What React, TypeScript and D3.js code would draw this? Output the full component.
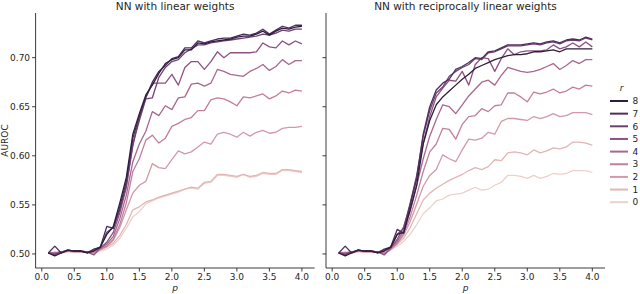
import React from "react";
import * as d3 from "d3";

// x grid (p) shared by every line
const pValues = [
  0.1, 0.2, 0.3, 0.4, 0.5, 0.6, 0.7, 0.8, 0.9, 1.0,
  1.1, 1.2, 1.3, 1.4, 1.5, 1.6, 1.7, 1.8, 1.9, 2.0,
  2.1, 2.2, 2.3, 2.4, 2.5, 2.6, 2.7, 2.8, 2.9, 3.0,
  3.1, 3.2, 3.3, 3.4, 3.5, 3.6, 3.7, 3.8, 3.9, 4.0,
];

const rLevels = [0, 1, 2, 3, 4, 5, 6, 7, 8];
const panelTitles = ["NN with linear weights", "NN with reciprocally linear weights"];
const xTicks = [0, 0.5, 1, 1.5, 2, 2.5, 3, 3.5, 4];
const yTicks = [0.5, 0.55, 0.6, 0.65, 0.7];

// AUROC, linear weights, one array per r
const linearR0 = [0.501, 0.501, 0.501, 0.502, 0.502, 0.502, 0.502, 0.500, 0.503,
  0.505, 0.509, 0.516, 0.526, 0.538, 0.543, 0.551, 0.554, 0.557, 0.559,
  0.561, 0.563, 0.566, 0.567, 0.566, 0.572, 0.573, 0.580, 0.580, 0.579,
  0.578, 0.581, 0.578, 0.579, 0.582, 0.581, 0.581, 0.585, 0.585, 0.584, 0.583];
const linearR1 = [0.501, 0.502, 0.501, 0.503, 0.503, 0.502, 0.502, 0.501, 0.504,
  0.507, 0.511, 0.519, 0.530, 0.545, 0.548, 0.553, 0.555, 0.558, 0.560,
  0.562, 0.564, 0.566, 0.568, 0.567, 0.573, 0.574, 0.581, 0.581, 0.580,
  0.579, 0.581, 0.579, 0.580, 0.583, 0.582, 0.582, 0.586, 0.586, 0.585, 0.584];
const linearR2 = [0.501, 0.501, 0.502, 0.503, 0.502, 0.502, 0.502, 0.501, 0.505,
  0.508, 0.514, 0.527, 0.545, 0.562, 0.570, 0.574, 0.592, 0.588, 0.587,
  0.596, 0.605, 0.602, 0.604, 0.609, 0.614, 0.612, 0.622, 0.624, 0.622,
  0.619, 0.624, 0.620, 0.624, 0.626, 0.623, 0.624, 0.628, 0.629, 0.629, 0.630];
const linearR3 = [0.501, 0.500, 0.502, 0.503, 0.503, 0.503, 0.502, 0.502, 0.505,
  0.508, 0.515, 0.530, 0.552, 0.584, 0.597, 0.616, 0.621, 0.613, 0.618,
  0.630, 0.633, 0.637, 0.639, 0.646, 0.646, 0.657, 0.659, 0.658, 0.655,
  0.651, 0.660, 0.659, 0.661, 0.663, 0.658, 0.661, 0.666, 0.664, 0.667, 0.666];
const linearR4 = [0.501, 0.501, 0.502, 0.503, 0.503, 0.503, 0.502, 0.503, 0.506,
  0.510, 0.518, 0.536, 0.560, 0.594, 0.612, 0.625, 0.645, 0.641, 0.651,
  0.647, 0.659, 0.660, 0.673, 0.674, 0.671, 0.674, 0.688, 0.686, 0.683,
  0.682, 0.681, 0.686, 0.689, 0.693, 0.687, 0.691, 0.698, 0.693, 0.697, 0.697];
const linearR5 = [0.501, 0.500, 0.502, 0.504, 0.503, 0.503, 0.502, 0.499, 0.506,
  0.512, 0.522, 0.542, 0.568, 0.610, 0.640, 0.659, 0.674, 0.674, 0.674,
  0.683, 0.672, 0.690, 0.696, 0.696, 0.688, 0.696, 0.706, 0.700, 0.705,
  0.705, 0.705, 0.705, 0.706, 0.715, 0.711, 0.710, 0.717, 0.713, 0.717, 0.714];
const linearR6 = [0.501, 0.499, 0.502, 0.504, 0.503, 0.503, 0.502, 0.504, 0.507,
  0.522, 0.527, 0.545, 0.570, 0.612, 0.636, 0.658, 0.659, 0.680, 0.690,
  0.696, 0.698, 0.705, 0.709, 0.713, 0.713, 0.715, 0.716, 0.717, 0.718,
  0.719, 0.720, 0.721, 0.722, 0.724, 0.723, 0.725, 0.728, 0.727, 0.729, 0.729];
const linearR7 = [0.501, 0.508, 0.501, 0.504, 0.503, 0.503, 0.501, 0.505, 0.507,
  0.528, 0.526, 0.548, 0.574, 0.618, 0.640, 0.660, 0.675, 0.686, 0.692,
  0.699, 0.701, 0.710, 0.710, 0.717, 0.715, 0.717, 0.719, 0.720, 0.720,
  0.722, 0.724, 0.723, 0.725, 0.729, 0.724, 0.728, 0.732, 0.730, 0.733, 0.733];
const linearR8 = [0.501, 0.498, 0.501, 0.504, 0.503, 0.503, 0.501, 0.503, 0.507,
  0.520, 0.528, 0.552, 0.578, 0.622, 0.643, 0.662, 0.672, 0.684, 0.694,
  0.698, 0.700, 0.708, 0.708, 0.715, 0.714, 0.716, 0.717, 0.718, 0.719,
  0.721, 0.722, 0.722, 0.724, 0.727, 0.723, 0.727, 0.730, 0.729, 0.731, 0.732];

// AUROC, reciprocally linear weights
const recipR0 = [0.501, 0.501, 0.501, 0.502, 0.502, 0.502, 0.502, 0.500, 0.504,
  0.508, 0.513, 0.520, 0.530, 0.541, 0.547, 0.554, 0.556, 0.560, 0.561,
  0.562, 0.565, 0.568, 0.565, 0.566, 0.570, 0.573, 0.580, 0.580, 0.579,
  0.577, 0.580, 0.577, 0.579, 0.582, 0.581, 0.582, 0.585, 0.585, 0.585, 0.583];
const recipR1 = [0.501, 0.502, 0.501, 0.503, 0.503, 0.502, 0.502, 0.501, 0.504,
  0.510, 0.516, 0.527, 0.541, 0.555, 0.562, 0.567, 0.571, 0.575, 0.578,
  0.581, 0.585, 0.588, 0.586, 0.589, 0.596, 0.595, 0.603, 0.604, 0.603,
  0.601, 0.606, 0.603, 0.605, 0.608, 0.607, 0.609, 0.614, 0.614, 0.613, 0.611];
const recipR2 = [0.501, 0.501, 0.502, 0.503, 0.502, 0.502, 0.502, 0.500, 0.505,
  0.511, 0.519, 0.533, 0.551, 0.569, 0.580, 0.586, 0.601, 0.597, 0.594,
  0.606, 0.617, 0.616, 0.618, 0.624, 0.622, 0.635, 0.638, 0.638, 0.637,
  0.636, 0.640, 0.638, 0.640, 0.643, 0.640, 0.641, 0.644, 0.644, 0.644, 0.642];
const recipR3 = [0.501, 0.500, 0.502, 0.503, 0.503, 0.503, 0.502, 0.501, 0.505,
  0.511, 0.521, 0.538, 0.560, 0.584, 0.604, 0.612, 0.628, 0.627, 0.617,
  0.632, 0.640, 0.641, 0.648, 0.645, 0.651, 0.652, 0.664, 0.664, 0.660,
  0.655, 0.665, 0.663, 0.665, 0.668, 0.664, 0.666, 0.670, 0.668, 0.672, 0.671];
const recipR4 = [0.501, 0.501, 0.502, 0.503, 0.503, 0.503, 0.502, 0.503, 0.506,
  0.513, 0.524, 0.544, 0.570, 0.597, 0.620, 0.637, 0.652, 0.650, 0.643,
  0.652, 0.661, 0.668, 0.675, 0.677, 0.672, 0.682, 0.690, 0.688, 0.686,
  0.685, 0.686, 0.688, 0.691, 0.694, 0.688, 0.692, 0.697, 0.694, 0.698, 0.698];
const recipR5 = [0.501, 0.500, 0.502, 0.504, 0.503, 0.503, 0.502, 0.499, 0.506,
  0.515, 0.528, 0.550, 0.578, 0.613, 0.640, 0.660, 0.669, 0.677, 0.676,
  0.686, 0.672, 0.693, 0.700, 0.699, 0.686, 0.699, 0.709, 0.703, 0.706,
  0.707, 0.707, 0.707, 0.708, 0.713, 0.709, 0.711, 0.715, 0.711, 0.716, 0.711];
const recipR6 = [0.501, 0.499, 0.502, 0.504, 0.503, 0.503, 0.502, 0.504, 0.507,
  0.520, 0.526, 0.552, 0.580, 0.620, 0.646, 0.664, 0.670, 0.681, 0.686,
  0.690, 0.693, 0.699, 0.698, 0.705, 0.706, 0.709, 0.712, 0.712, 0.712,
  0.713, 0.714, 0.713, 0.715, 0.716, 0.714, 0.717, 0.718, 0.717, 0.720, 0.718];
const recipR7 = [0.501, 0.508, 0.501, 0.504, 0.503, 0.503, 0.501, 0.505, 0.507,
  0.525, 0.521, 0.550, 0.577, 0.622, 0.650, 0.667, 0.674, 0.678, 0.688,
  0.691, 0.695, 0.700, 0.699, 0.706, 0.707, 0.710, 0.713, 0.713, 0.713,
  0.714, 0.715, 0.714, 0.716, 0.717, 0.715, 0.718, 0.719, 0.718, 0.721, 0.719];
const recipR8 = [0.501, 0.498, 0.501, 0.504, 0.503, 0.503, 0.501, 0.503, 0.507,
  0.520, 0.522, 0.545, 0.570, 0.612, 0.636, 0.652, 0.660, 0.666, 0.672,
  0.678, 0.683, 0.689, 0.692, 0.695, 0.698, 0.700, 0.702, 0.703, 0.703,
  0.704, 0.706, 0.706, 0.707, 0.708, 0.706, 0.709, 0.709, 0.709, 0.709, 0.709];

const linearSeries = [linearR0, linearR1, linearR2, linearR3, linearR4, linearR5, linearR6, linearR7, linearR8];
const recipSeries = [recipR0, recipR1, recipR2, recipR3, recipR4, recipR5, recipR6, recipR7, recipR8];

// seaborn's default cubehelix ramp (light .85 -> dark .15)
function cubehelix(x: number) {
  const a = 0.8 * x * (1 - x) / 2;
  const phi = 2 * Math.PI * (0.4 * x);
  const c = Math.cos(phi), s = Math.sin(phi);
  const ch = (p0: number, p1: number) => Math.max(0, Math.min(1, x + a * (p0 * c + p1 * s)));
  return d3.rgb(ch(-0.14861, 1.78277) * 255, ch(-0.29227, -0.90649) * 255, ch(1.97294, 0) * 255).formatHex();
}
const colorScale = (r: number) => cubehelix(0.85 - 0.7 * r / 8);

const font = "DejaVu Sans, sans-serif";
const ink = "#262626";
const top = 13;
const bottom = 268;
const panelX = [[35.6, 314.6], [326, 605]];

const y = d3.scaleLinear().domain([0.4857, 0.7455]).range([bottom, top]);

function Panel({ idx, series }: { idx: number; series: number[][] }) {
  const [x0, x1] = panelX[idx];
  const x = d3.scaleLinear().domain([-0.095, 4.195]).range([x0, x1]);
  const line = d3.line<number>().x((_, i) => x(pValues[i])).y((v) => y(v));
  return (
    <g>
      <text x={(x0 + x1) / 2} y={9.5} textAnchor="middle" fontSize={10.5} fill={ink}>
        {panelTitles[idx]}
      </text>
      {series.map((vals, r) => (
        <path key={r} d={line(vals) ?? ""} fill="none" stroke={colorScale(r)} strokeWidth={1.3} strokeLinejoin="round" />
      ))}
      <line x1={x0} x2={x0} y1={top} y2={bottom} stroke={ink} strokeWidth={0.9} />
      <line x1={x0} x2={x1} y1={bottom} y2={bottom} stroke={ink} strokeWidth={0.9} />
      {xTicks.map((t) => (
        <g key={t}>
          <line x1={x(t)} x2={x(t)} y1={bottom} y2={bottom + 3.5} stroke={ink} strokeWidth={0.9} />
          <text x={x(t)} y={280} textAnchor="middle" fontSize={9} fill={ink}>
            {d3.format(".1f")(t)}
          </text>
        </g>
      ))}
      {yTicks.map((t) => (
        <g key={t}>
          <line x1={x0 - 3.5} x2={x0} y1={y(t)} y2={y(t)} stroke={ink} strokeWidth={0.9} />
          {idx === 0 && (
            <text x={x0 - 5.5} y={y(t) + 3.2} textAnchor="end" fontSize={9} fill={ink}>
              {d3.format(".2f")(t)}
            </text>
          )}
        </g>
      ))}
      <text x={(x0 + x1) / 2} y={290.5} textAnchor="middle" fontSize={9} fontStyle="italic" fill={ink}>
        p
      </text>
    </g>
  );
}

export default function App() {
  const legendOrder = [...rLevels].reverse();
  return (
    <svg width={640} height={294} style={{ position: "absolute", left: 0, top: 0, background: "#fff" }} fontFamily={font}>
      <Panel idx={0} series={linearSeries} />
      <Panel idx={1} series={recipSeries} />
      <text transform={`translate(8,${(top + bottom) / 2}) rotate(-90)`} textAnchor="middle" fontSize={9} fill={ink}>
        AUROC
      </text>
      <text x={621.5} y={91} textAnchor="middle" fontSize={9} fontStyle="italic" fill={ink}>
        r
      </text>
      {legendOrder.map((r, i) => {
        const cy = 101 + i * 12.65;
        return (
          <g key={r}>
            <line x1={610} x2={628} y1={cy} y2={cy} stroke={colorScale(r)} strokeWidth={2} />
            <text x={632.5} y={cy + 3.2} fontSize={9} fill={ink}>
              {r}
            </text>
          </g>
        );
      })}
    </svg>
  );
}
